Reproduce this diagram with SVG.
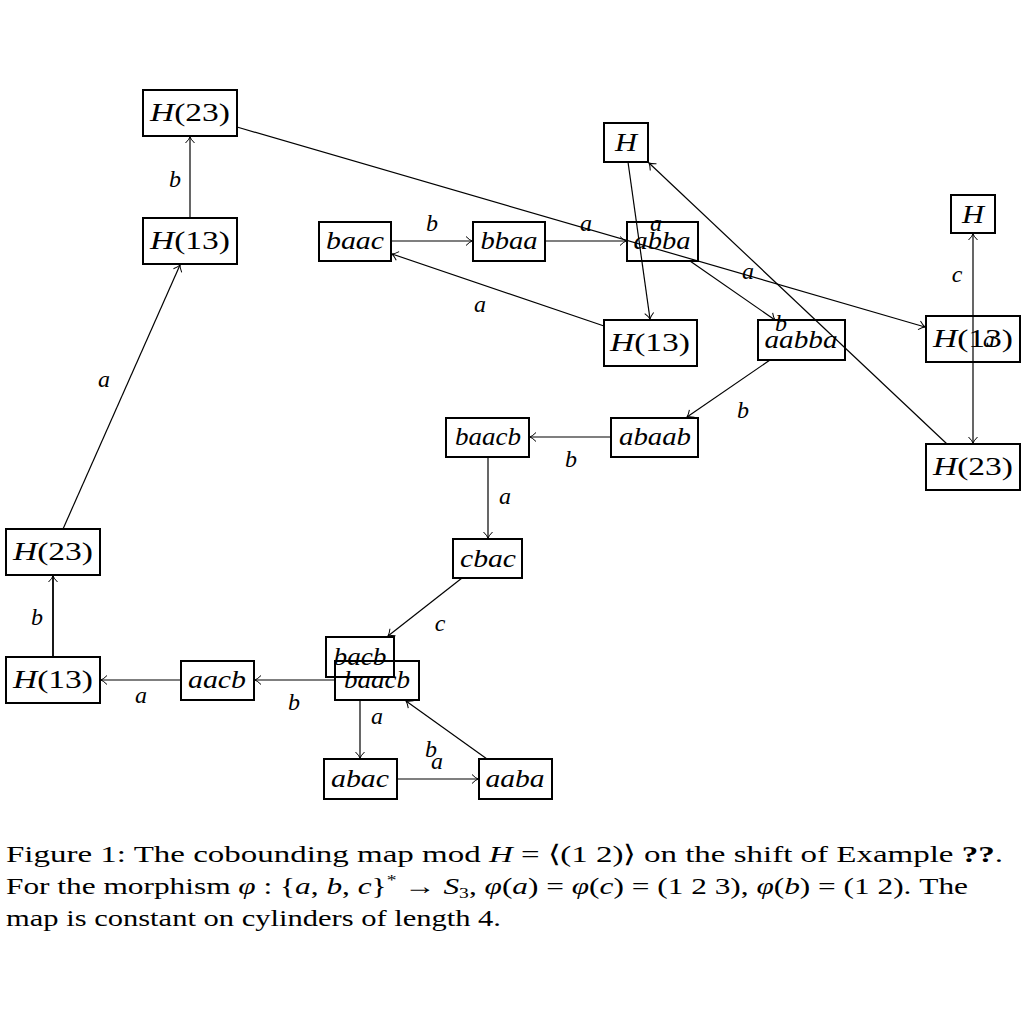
<svg xmlns="http://www.w3.org/2000/svg" width="1024" height="1024" viewBox="0 0 1024 1024">
<style>
.n rect{fill:none;stroke:#000;stroke-width:2}
.n text{font-family:"Liberation Serif","Times New Roman",serif;font-size:25px;font-style:italic;text-anchor:middle}
.up{font-style:normal}
.e line{stroke:#000;stroke-width:1.2;fill:none}
.lb{font-family:"Liberation Serif","Times New Roman",serif;font-size:24px;font-style:italic;text-anchor:middle}
.cap{font-family:"Liberation Serif","Times New Roman",serif;font-size:24px}
.i{font-style:italic}
</style>
<defs>
<marker id="ar" viewBox="-8 -6 10 12" refX="0" refY="0" markerWidth="10" markerHeight="12" orient="auto-start-reverse" markerUnits="userSpaceOnUse">
<path d="M-6,-4.5 Q-2.5,-1 0,0 Q-2.5,1 -6,4.5" fill="none" stroke="#000" stroke-width="1"/>
</marker>
</defs>
<rect width="1024" height="1024" fill="#fff"/>
<g id="n1" class="n"><rect x="143" y="90" width="94" height="46"/><text x="190" y="121" textLength="80" lengthAdjust="spacingAndGlyphs">H<tspan class="up">(23)</tspan></text></g>
<g id="n2" class="n"><rect x="143" y="218" width="94" height="46"/><text x="190" y="249" textLength="80" lengthAdjust="spacingAndGlyphs">H<tspan class="up">(13)</tspan></text></g>
<g id="n3" class="n"><rect x="319" y="222" width="72" height="39"/><text x="355" y="249" textLength="58" lengthAdjust="spacingAndGlyphs">baac</text></g>
<g id="n4" class="n"><rect x="473" y="222" width="72" height="39"/><text x="509" y="249" textLength="57" lengthAdjust="spacingAndGlyphs">bbaa</text></g>
<g id="n5" class="n"><rect x="627" y="222" width="71" height="39"/><text x="662" y="249" textLength="57" lengthAdjust="spacingAndGlyphs">abba</text></g>
<g id="n6" class="n"><rect x="604" y="123" width="44" height="39"/><text x="626" y="151" textLength="22" lengthAdjust="spacingAndGlyphs">H</text></g>
<g id="n7" class="n"><rect x="604" y="320" width="93" height="46"/><text x="650" y="351" textLength="80" lengthAdjust="spacingAndGlyphs">H<tspan class="up">(13)</tspan></text></g>
<g id="n8" class="n"><rect x="758" y="320" width="87" height="40"/><text x="801" y="348" textLength="73" lengthAdjust="spacingAndGlyphs">aabba</text></g>
<g id="n9" class="n"><rect x="951" y="195" width="44" height="38"/><text x="973" y="223" textLength="22" lengthAdjust="spacingAndGlyphs">H</text></g>
<g id="n10" class="n"><rect x="926" y="316" width="94" height="46"/><text x="973" y="347" textLength="80" lengthAdjust="spacingAndGlyphs">H<tspan class="up">(13)</tspan></text></g>
<g id="n11" class="n"><rect x="926" y="444" width="94" height="46"/><text x="973" y="475" textLength="80" lengthAdjust="spacingAndGlyphs">H<tspan class="up">(23)</tspan></text></g>
<g id="n12" class="n"><rect x="446" y="418" width="83" height="39"/><text x="488" y="445" textLength="66" lengthAdjust="spacingAndGlyphs">baacb</text></g>
<g id="n13" class="n"><rect x="611" y="418" width="87" height="39"/><text x="655" y="445" textLength="72" lengthAdjust="spacingAndGlyphs">abaab</text></g>
<g id="n14" class="n"><rect x="453" y="539" width="69" height="39"/><text x="488" y="567" textLength="56" lengthAdjust="spacingAndGlyphs">cbac</text></g>
<g id="n15" class="n"><rect x="6" y="529" width="94" height="46"/><text x="53" y="560" textLength="80" lengthAdjust="spacingAndGlyphs">H<tspan class="up">(23)</tspan></text></g>
<g id="n16" class="n"><rect x="6" y="657" width="94" height="46"/><text x="53" y="688" textLength="80" lengthAdjust="spacingAndGlyphs">H<tspan class="up">(13)</tspan></text></g>
<g id="n17" class="n"><rect x="181" y="661" width="73" height="39"/><text x="217" y="688" textLength="58" lengthAdjust="spacingAndGlyphs">aacb</text></g>
<g id="n18" class="n"><rect x="326" y="637" width="68" height="40"/><text x="360" y="665" textLength="53" lengthAdjust="spacingAndGlyphs">bacb</text></g>
<g id="n19" class="n"><rect x="335" y="661" width="84" height="39"/><text x="377" y="688" textLength="66" lengthAdjust="spacingAndGlyphs">baacb</text></g>
<g id="n20" class="n"><rect x="324" y="759" width="73" height="40"/><text x="360" y="787" textLength="58" lengthAdjust="spacingAndGlyphs">abac</text></g>
<g id="n21" class="n"><rect x="479" y="759" width="73" height="40"/><text x="515" y="787" textLength="59" lengthAdjust="spacingAndGlyphs">aaba</text></g>
<g class="e" id="edges">
<line x1="190" y1="218" x2="190" y2="137" marker-end="url(#ar)"/>
<line x1="63" y1="529" x2="180" y2="265" marker-end="url(#ar)"/>
<line x1="53" y1="657" x2="53" y2="576" marker-end="url(#ar)" style="stroke-width:1.8"/>
<line x1="181" y1="680" x2="101" y2="680" marker-end="url(#ar)"/>
<line x1="335" y1="680" x2="255" y2="680" marker-end="url(#ar)"/>
<line x1="360" y1="700" x2="360" y2="758" marker-end="url(#ar)"/>
<line x1="397" y1="779" x2="478" y2="779" marker-end="url(#ar)"/>
<line x1="487" y1="759" x2="406" y2="701" marker-end="url(#ar)"/>
<line x1="462" y1="578" x2="388" y2="636" marker-end="url(#ar)"/>
<line x1="488" y1="457" x2="488" y2="538" marker-end="url(#ar)"/>
<line x1="611" y1="437" x2="530" y2="437" marker-end="url(#ar)"/>
<line x1="770" y1="360" x2="687" y2="417" marker-end="url(#ar)"/>
<line x1="690" y1="261" x2="775" y2="320" marker-end="url(#ar)"/>
<line x1="237" y1="127" x2="925" y2="327" marker-end="url(#ar)"/>
<line x1="545" y1="241" x2="626" y2="241" marker-end="url(#ar)"/>
<line x1="391" y1="241" x2="472" y2="241" marker-end="url(#ar)"/>
<line x1="604" y1="326" x2="392" y2="254" marker-end="url(#ar)"/>
<line x1="628" y1="162" x2="650" y2="319" marker-end="url(#ar)"/>
<line x1="947" y1="444" x2="649" y2="163" marker-end="url(#ar)"/>
<line x1="973" y1="443" x2="973" y2="234" marker-start="url(#ar)" marker-end="url(#ar)"/>
</g>
<g id="labels">
<text class="lb" x="175" y="187">b</text>
<text class="lb" x="104" y="387">a</text>
<text class="lb" x="37" y="625">b</text>
<text class="lb" x="141" y="703">a</text>
<text class="lb" x="294" y="710">b</text>
<text class="lb" x="377" y="724">a</text>
<text class="lb" x="431" y="757">b</text>
<text class="lb" x="437" y="769">a</text>
<text class="lb" x="440" y="631">c</text>
<text class="lb" x="505" y="504">a</text>
<text class="lb" x="571" y="467">b</text>
<text class="lb" x="743" y="418">b</text>
<text class="lb" x="781" y="331">b</text>
<text class="lb" x="480" y="312">a</text>
<text class="lb" x="432" y="231">b</text>
<text class="lb" x="586" y="231">a</text>
<text class="lb" x="656" y="231">a</text>
<text class="lb" x="748" y="279">a</text>
<text class="lb" x="957" y="282">c</text>
<text class="lb" x="989" y="347">a</text>
</g>
<g id="caption">
<text class="cap" x="6" y="862" textLength="997" lengthAdjust="spacingAndGlyphs">Figure 1: The cobounding map mod <tspan class="i">H</tspan> = ⟨(1 2)⟩ on the shift of Example <tspan font-weight="bold">??</tspan>.</text>
<text class="cap" x="6" y="894" textLength="962" lengthAdjust="spacingAndGlyphs">For the morphism <tspan class="i">φ</tspan> : {<tspan class="i">a</tspan>, <tspan class="i">b</tspan>, <tspan class="i">c</tspan>}<tspan font-size="15" dy="-9">*</tspan><tspan dy="9"> → </tspan><tspan class="i">S</tspan><tspan font-size="15" dy="4">3</tspan><tspan dy="-4">, </tspan><tspan class="i">φ</tspan>(<tspan class="i">a</tspan>) = <tspan class="i">φ</tspan>(<tspan class="i">c</tspan>) = (1 2 3), <tspan class="i">φ</tspan>(<tspan class="i">b</tspan>) = (1 2).  The</text>
<text class="cap" x="6" y="926" textLength="495" lengthAdjust="spacingAndGlyphs">map is constant on cylinders of length 4.</text>
</g>
</svg>
